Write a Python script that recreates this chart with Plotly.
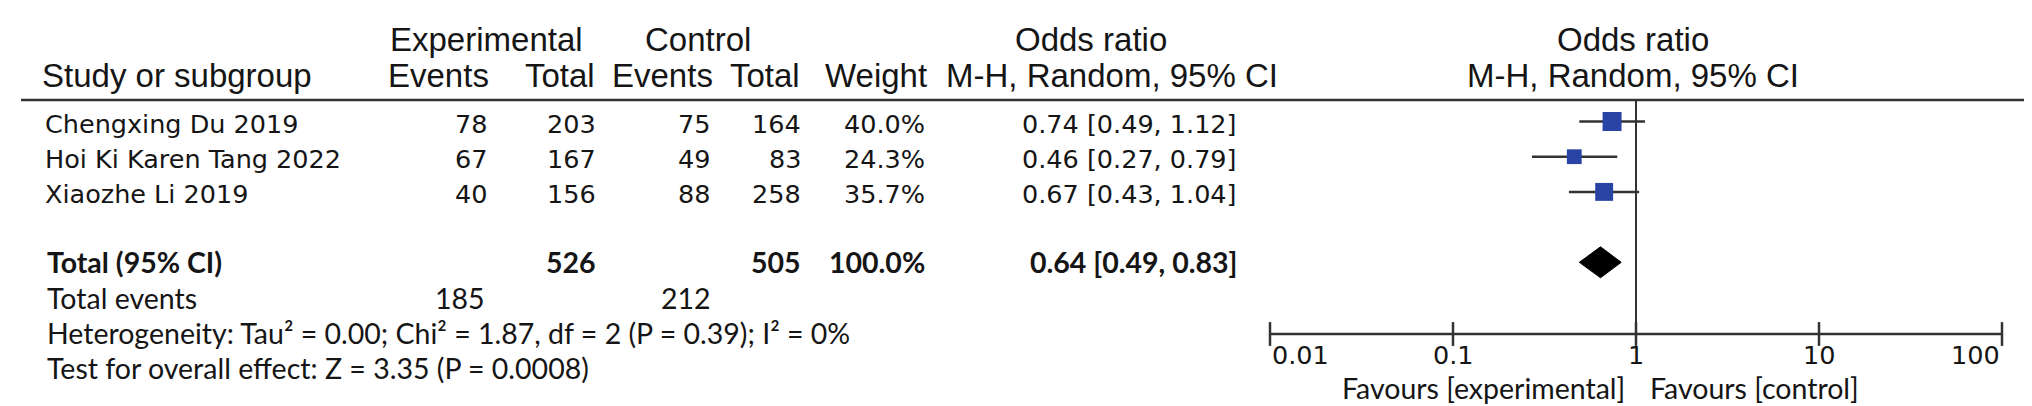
import numpy as np
import plotly.graph_objects as go

# ---------------- data ----------------
studies = ["Chengxing Du 2019", "Hoi Ki Karen Tang 2022", "Xiaozhe Li 2019"]
exp_events = [78, 67, 40]
exp_total = [203, 167, 156]
ctrl_events = [75, 49, 88]
ctrl_total = [164, 83, 258]
weights = [40.0, 24.3, 35.7]
or_est = [0.74, 0.46, 0.67]
ci_low = [0.49, 0.27, 0.43]
ci_high = [1.12, 0.79, 1.04]

total_exp = 526
total_ctrl = 505
total_weight = 100.0
total_or = 0.64
total_low = 0.49
total_high = 0.83
total_exp_events = 185
total_ctrl_events = 212

heterogeneity = "Heterogeneity: Tau² = 0.00; Chi² = 1.87, df = 2 (P = 0.39); I² = 0%"
overall_test = "Test for overall effect: Z = 3.35 (P = 0.0008)"

tick_vals = [0.01, 0.1, 1, 10, 100]
tick_text = ["0.01", "0.1", "1", "10", "100"]
favours_left = "Favours [experimental]"
favours_right = "Favours [control]"

# ---------------- layout helpers ----------------
W, H = 2032, 406
ROW0 = 113.5      # pixel centre of first study row
ROWH = 35.2       # pixel height of a row


def row_of(px):
    return (px - ROW0) / ROWH


def xp(px):
    return px / W


study_rows = [0, 1, 2]
total_row = 4
events_row = 5
het_row = 6
test_row = 7
hdr1_row = row_of(31)
hdr2_row = row_of(67)
line_row = row_of(92)
axis_row = row_of(326)
ticklab_row = row_of(347)
fav_row = row_of(380)

HEAD_FONT = "Liberation Sans"
ROW_FONT = "DejaVu Sans"
LOW_FONT = "Lato"
TXT = "#151515"
LINE = "#333333"
BLUE = "#2a44a6"

fig = go.Figure()

# CI lines
cx, cy = [], []
for lo, hi, r in zip(ci_low, ci_high, study_rows):
    cx += [lo, hi, None]
    cy += [r, r, None]
fig.add_trace(go.Scatter(x=cx, y=cy, mode="lines",
                         line=dict(color=LINE, width=2.5),
                         hoverinfo="skip", cliponaxis=False))

# line of no effect
fig.add_trace(go.Scatter(x=[1, 1], y=[line_row, axis_row], mode="lines",
                         line=dict(color=LINE, width=2),
                         hoverinfo="skip", cliponaxis=False))

# squares (side proportional to sqrt(weight))
sizes = [3.0 * np.sqrt(w) for w in weights]
fig.add_trace(go.Scatter(x=or_est, y=study_rows, mode="markers",
                         marker=dict(symbol="square", size=sizes, color=BLUE,
                                     opacity=1, line=dict(width=0)),
                         cliponaxis=False))

# diamond for pooled estimate
hh = 0.44
fig.add_trace(go.Scatter(x=[total_low, total_or, total_high, total_or, total_low],
                         y=[total_row, total_row - hh, total_row, total_row + hh, total_row],
                         mode="lines", fill="toself", fillcolor="#000000",
                         line=dict(color="#000000", width=1),
                         hoverinfo="skip", cliponaxis=False))

# axis line with ticks
fig.add_trace(go.Scatter(x=[tick_vals[0], tick_vals[-1]], y=[axis_row, axis_row],
                         mode="lines", line=dict(color=LINE, width=2.5),
                         hoverinfo="skip", cliponaxis=False))
fig.add_trace(go.Scatter(x=tick_vals, y=[axis_row] * len(tick_vals), mode="markers",
                         marker=dict(symbol="line-ns", size=17, opacity=1,
                                     line=dict(color=LINE, width=2.5)),
                         hoverinfo="skip", cliponaxis=False))

anns = []


def ann(text, x, row, anchor, family, size, xref="paper", yshift=0, weight="normal"):
    anns.append(dict(text=text, x=x, y=row, xref=xref, yref="y",
                     xanchor=anchor, yanchor="middle", showarrow=False,
                     yshift=yshift,
                     font=dict(family=family, size=size, color=TXT, weight=weight)))


# headers
HS = 33
ann("Experimental", xp(478), hdr1_row, "center", HEAD_FONT, HS)
ann("Control", xp(690), hdr1_row, "center", HEAD_FONT, HS)
ann("Odds ratio", xp(1083), hdr1_row, "center", HEAD_FONT, HS)
ann("Odds ratio", xp(1625), hdr1_row, "center", HEAD_FONT, HS)
ann("Study or subgroup", xp(32), hdr2_row, "left", HEAD_FONT, HS)
ann("Events", xp(483), hdr2_row, "right", HEAD_FONT, HS)
ann("Total", xp(589), hdr2_row, "right", HEAD_FONT, HS)
ann("Events", xp(707), hdr2_row, "right", HEAD_FONT, HS)
ann("Total", xp(794), hdr2_row, "right", HEAD_FONT, HS)
ann("Weight", xp(921), hdr2_row, "right", HEAD_FONT, HS)
ann("M-H, Random, 95% CI", xp(1104), hdr2_row, "center", HEAD_FONT, HS)
ann("M-H, Random, 95% CI", xp(1625), hdr2_row, "center", HEAD_FONT, HS)

# study rows
RS = 25.5
for i, r in enumerate(study_rows):
    ann(studies[i], xp(35), r, "left", ROW_FONT, RS, yshift=-2)
    ann(str(exp_events[i]), xp(481), r, "right", ROW_FONT, RS, yshift=-2)
    ann(str(exp_total[i]), xp(590), r, "right", ROW_FONT, RS, yshift=-2)
    ann(str(ctrl_events[i]), xp(704), r, "right", ROW_FONT, RS, yshift=-2)
    ann(str(ctrl_total[i]), xp(795), r, "right", ROW_FONT, RS, yshift=-2)
    ann(f"{weights[i]:.1f}%", xp(919), r, "right", ROW_FONT, RS, yshift=-2)
    ann(f"{or_est[i]:.2f} [{ci_low[i]:.2f}, {ci_high[i]:.2f}]", xp(1231), r,
        "right", ROW_FONT, RS, yshift=-2)

# total row (bold)
LS = 28.5
ann("Total (95% CI)", xp(37), total_row, "left", LOW_FONT, LS, weight="bold")
ann(str(total_exp), xp(590), total_row, "right", LOW_FONT, LS, weight="bold")
ann(str(total_ctrl), xp(795), total_row, "right", LOW_FONT, LS, weight="bold")
ann(f"{total_weight:.1f}%", xp(919), total_row, "right", LOW_FONT, LS, weight="bold")
ann(f"{total_or:.2f} [{total_low:.2f}, {total_high:.2f}]", xp(1231), total_row,
    "right", LOW_FONT, LS, weight="bold")

ann("Total events", xp(37), events_row, "left", LOW_FONT, LS)
ann(str(total_exp_events), xp(479), events_row, "right", LOW_FONT, LS)
ann(str(total_ctrl_events), xp(705), events_row, "right", LOW_FONT, LS)
ann(heterogeneity, xp(37), het_row, "left", LOW_FONT, LS)
ann(overall_test, xp(37), test_row, "left", LOW_FONT, LS)

# tick labels
for v, t in zip(tick_vals, tick_text):
    a = "left" if v == tick_vals[0] else ("right" if v == tick_vals[-1] else "center")
    ann(t, np.log10(v), ticklab_row, a, ROW_FONT, RS, xref="x")

# favours labels
ann(favours_left, np.log10(1) - 0.05, fav_row, "right", LOW_FONT, LS, xref="x")
ann(favours_right, np.log10(1) + 0.065, fav_row, "left", LOW_FONT, LS, xref="x")

fig.update_layout(
    width=W, height=H,
    margin=dict(l=0, r=0, t=0, b=0),
    paper_bgcolor="white", plot_bgcolor="white",
    showlegend=False,
    annotations=anns,
    shapes=[dict(type="line", xref="paper", yref="y",
                 x0=xp(13), x1=xp(2020), y0=line_row, y1=line_row,
                 line=dict(color=LINE, width=2.5))],
    xaxis=dict(type="log", range=[-2, 2], domain=[xp(1262), xp(1994)],
               showgrid=False, zeroline=False, showline=False,
               showticklabels=False, ticks=""),
    yaxis=dict(range=[(H - ROW0) / ROWH, -ROW0 / ROWH], domain=[0, 1],
               showgrid=False, zeroline=False, showline=False,
               showticklabels=False, ticks=""),
)

fig.write_html("out.html")
